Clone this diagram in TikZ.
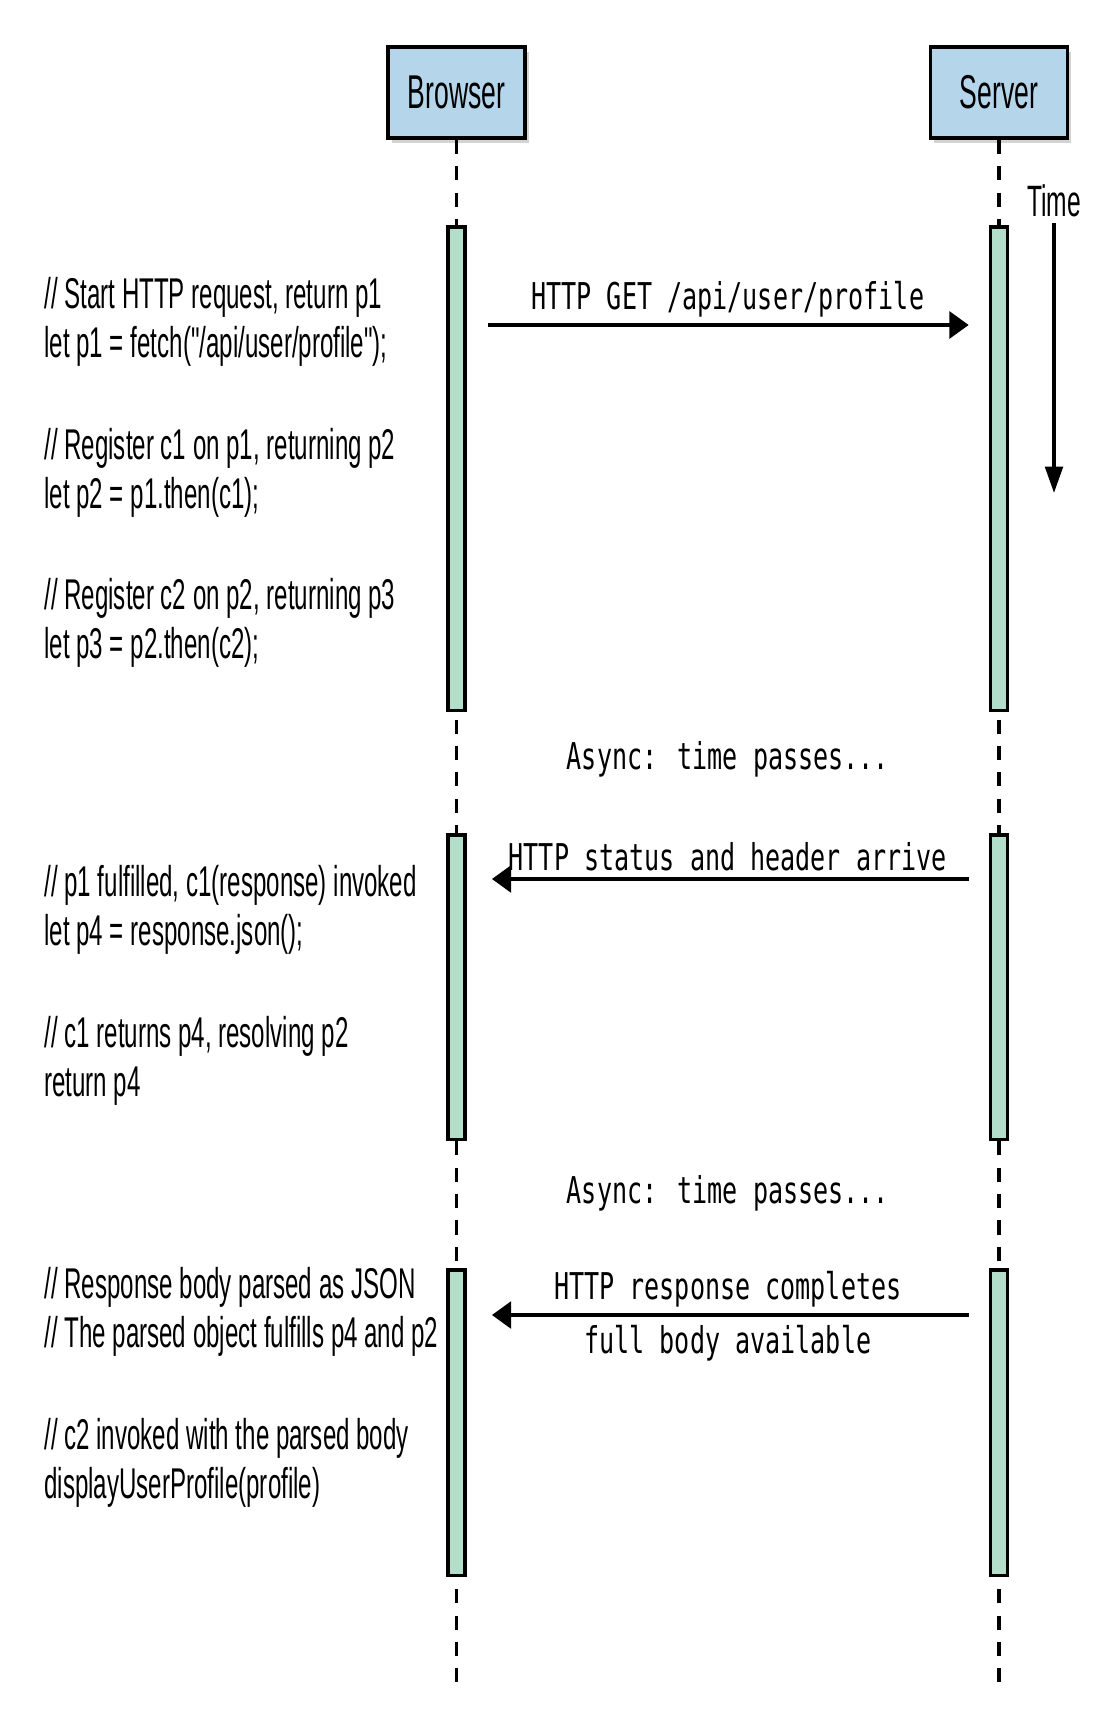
\documentclass[tikz,border=0pt]{standalone}
\usepackage{fontspec}
\newfontfamily\condfont[FakeStretch=0.56]{Liberation Sans}
\newfontfamily\codefont[FakeStretch=0.68]{DejaVu Sans Mono}
\usetikzlibrary{arrows.meta,positioning,shadows}
\definecolor{boxblue}{RGB}{181,213,234}
\definecolor{barmint}{RGB}{179,222,201}

\begin{document}
\begin{tikzpicture}[x=0.02cm,y=-0.02cm,
	actor/.style={
		rectangle,
		draw=black,
		line width=2.2pt,
		fill=boxblue,
		minimum width=2.74cm,
		minimum height=1.82cm,
		drop shadow={opacity=0.35,shadow xshift=2pt,shadow yshift=-3pt},
		font=\condfont\fontsize{27}{31}\selectfont},
	actbar/.style={
		rectangle,
		draw=black,
		line width=2pt,
		fill=barmint,
		minimum width=0.34cm,
		inner sep=0pt,
		anchor=north},
	lifeline/.style={line width=1.8pt, dash pattern=on 8pt off 7pt},
	msg/.style={line width=2.8pt, -{Triangle[length=11pt,width=15pt]}},
	code/.style={font=\codefont\fontsize{21}{25}\selectfont},
	note/.style={anchor=west, align=left, inner sep=0pt,
		font=\condfont\fontsize{24.5}{27.8}\selectfont}
	]
	\useasboundingbox (0,0) rectangle (1094,1730);

	\node[actor] (browser) at (456.6,92.5) {Browser};
	\node[actor] (server) at (999,92.5) {Server};
	\coordinate (bEnd) at (456.6,1682);
	\coordinate (sEnd) at (999,1682);
	\draw[lifeline] (browser.south) -- (bEnd);
	\draw[lifeline] (server.south) -- (sEnd);

	% activation bars: number/top/height
	\foreach \k/\top/\h in {1/225/9.68cm, 2/833/6.1cm, 3/1268/6.12cm}{
		\node[actbar, minimum height=\h] (bb\k) at (456.6,\top) {};
		\node[actbar, minimum height=\h] (sb\k) at (999,\top) {};
	}

	\node[font=\condfont\fontsize{25}{29}\selectfont] (time) at (1054,201) {Time};
	\coordinate (timeEnd) at (1054,493);
	\draw[line width=2pt, -{Triangle[length=15pt,width=10pt]}] (time) -- (timeEnd);

	\draw[msg, shorten <=0.42cm, shorten >=0.4cm] (bb1.east |- 0,325) --
		node[code, above=0pt] {HTTP GET /api/user/profile} (sb1.west |- 0,325);
	\draw[msg, shorten <=0.4cm, shorten >=0.5cm] (sb2.west |- 0,879) --
		node[code, above=0pt] {HTTP status and header arrive} (bb2.east |- 0,879);
	\draw[msg, shorten <=0.4cm, shorten >=0.5cm] (sb3.west |- 0,1315) --
		node[code, above=0pt] {HTTP response completes}
		node[code, below=1pt] {full body available} (bb3.east |- 0,1315);

	\node[code] (wait1) at (728,759) {Async: time passes...};
	\node[code] (wait2) at (728,1193) {Async: time passes...};

	\node[note] (n1) at (44,322) {// Start HTTP request, return p1\\let p1 = fetch("/api/user/profile");};
	\node[note] (n2) at (44,473) {// Register c1 on p1, returning p2\\let p2 = p1.then(c1);};
	\node[note] (n3) at (44,623) {// Register c2 on p2, returning p3\\let p3 = p2.then(c2);};
	\node[note] (n4) at (44,910) {// p1 fulfilled, c1(response) invoked\\let p4 = response.json();};
	\node[note] (n5) at (44,1061) {// c1 returns p4, resolving p2\\return p4};
	\node[note] (n6) at (44,1312) {// Response body parsed as JSON\\// The parsed object fulfills p4 and p2};
	\node[note] (n7) at (44,1463) {// c2 invoked with the parsed body\\displayUserProfile(profile)};
\end{tikzpicture}
\end{document}
